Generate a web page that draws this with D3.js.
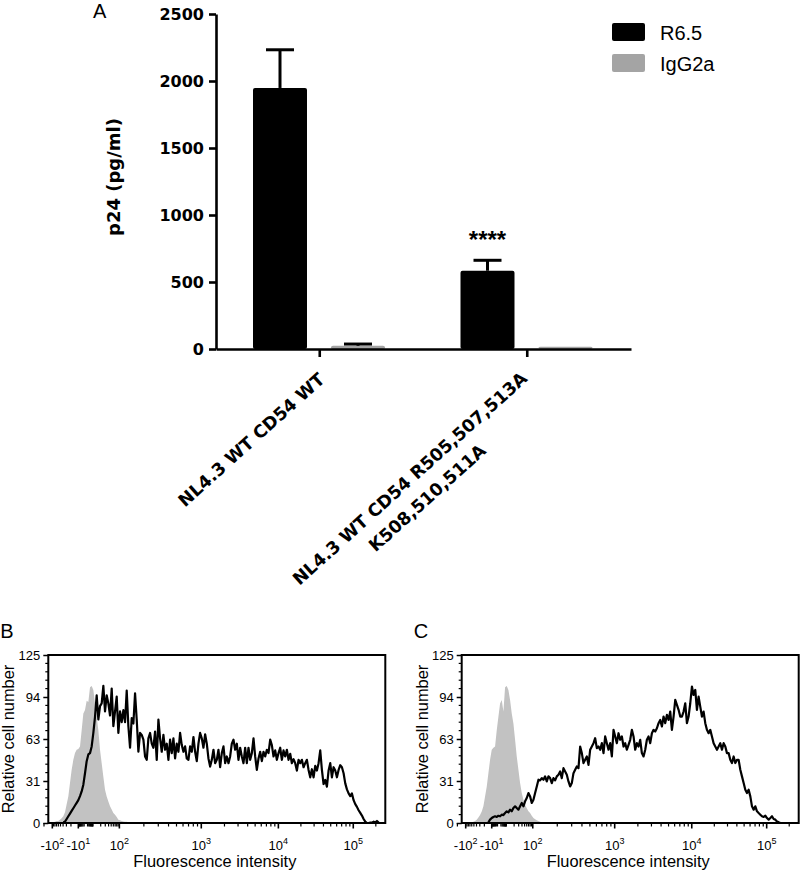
<!DOCTYPE html>
<html>
<head>
<meta charset="utf-8">
<script src="https://cdn.jsdelivr.net/npm/d3@7"></script>
<style>
  body { margin: 0; background: #fff; }
  svg { display: block; }
</style>
</head>
<body>
<svg id="fig" width="800" height="871"></svg>
<script>
/* ---------- panel A data ---------- */
const categoryLines = [
  ["NL4.3 WT CD54 WT"],
  ["NL4.3 WT CD54 R505,507,513A", "K508,510,511A"]
];
const seriesNames = ["R6.5", "IgG2a"];
const r65Mean = [1948, 584];
const r65Err = [285, 78];
const iggMean = [24, 17];
const iggErr = [13, 0];
const significance = ["", "****"];
const yTicksA = [0, 500, 1000, 1500, 2000, 2500];

/* ---------- panels B / C data (histograms, counts per display channel) ---------- */
const flowYTicks = [0, 31.25, 62.5, 93.75, 125];
const flowYLabels = ["0", "31", "63", "94", "125"];
const flowXTicks = [-100, -10, 100, 1000, 10000, 100000];
const flowXLabels = [["-10", "2"], ["-10", "1"], ["10", "2"], ["10", "3"], ["10", "4"], ["10", "5"]];

// value -> display channel calibration
const calibValues = [-100, -10, 0, 10, 100, 1000, 10000, 100000];
const calibChannels = [2.4, 18.0, 22.5, 27.0, 42.6, 91.7, 137.9, 182.8];

const bGrayStart = 3;
const bGray = [
  0.5, 1, 1.5, 1.5, 2.5, 3.5, 5, 8, 14, 19.8,
  29.7, 39.6, 47, 52, 54.5, 55, 57, 69, 81.5, 84,
  91, 90, 101, 102, 99, 89, 79, 69, 54.5, 44.5,
  34.5, 24.8, 19.8, 16, 12.4, 10, 7.4, 6.2, 4.5, 2.5,
  2, 1.5, 1.2, 1, 1, 0.5, 0
];
const bBlackStart = 9;
const bBlack = [
  0.5, 1, 3, 5, 7, 9, 11, 13, 15, 17,
  20, 23.5, 28.5, 37, 46, 51, 52, 57, 67, 79,
  95, 77, 87, 89, 102, 83, 95, 89, 80, 100,
  72, 83, 94, 67, 83, 75, 84, 75, 98.5, 72,
  56, 78, 74, 96.5, 77, 53, 67, 65.5, 62, 49.5,
  47, 63, 67, 59, 56, 68, 47, 77, 63, 53,
  65.5, 54.5, 59, 47, 62, 52, 63, 48, 59, 53,
  67, 58, 53, 57, 48, 47, 57, 53, 64, 53,
  46, 59, 67, 63, 56, 66, 59, 48, 42, 47,
  54.5, 44.5, 47, 54.5, 41.5, 52, 57, 44.5, 49.5, 44.5,
  49.5, 59, 62, 54.5, 59, 47, 56, 49.5, 44.5, 56,
  44.5, 56, 47, 52, 63, 49.5, 39.5, 48, 53, 46,
  53, 49.5, 54.5, 52, 62, 58, 49.5, 54, 47, 52,
  56, 47, 54, 49.5, 54.5, 47, 51.5, 44.5, 47.5, 44.5,
  39, 47, 44.5, 47, 41.5, 44.5, 47, 39.5, 34, 40,
  34, 42.5, 39, 44.5, 54, 39.5, 29, 32, 27, 39,
  44.5, 34, 41.5, 39, 34, 39.5, 43, 41.5, 37, 29.5,
  25, 22, 20, 22, 17, 14, 12, 9.5, 7.5, 5.5,
  3, 1, 0, 0, 0.3, 0.3, 1, 0.5, 1.5, 0.3
];

const cGrayStart = 6;
const cGray = [
  0.5, 1, 1.5, 2.5, 4, 6, 8.5, 12.4, 19.8, 27,
  37, 47, 54.5, 56, 57, 69, 79, 89, 91.5, 83,
  101, 102, 99, 91.5, 81.5, 74, 62, 49.5, 39.6, 29.7,
  22.3, 17.3, 13.6, 11, 8.7, 7.4, 5.4, 3.7, 2.7, 2,
  1.5, 1, 0.5, 0.2, 0
];
const cBlackStart = 16;
const cBlack = [
  0.5, 2.5, 3.7, 4.5, 5, 4.5, 5.4, 5, 6.2, 5.9,
  7.4, 8.7, 7.9, 9.9, 8.7, 11.1, 12.4, 11.1, 9.9, 12.4,
  14.9, 12.4, 16.1, 18.6, 22.3, 19.8, 14.9, 17.3, 22.3, 27.2,
  32.2, 31.7, 33.4, 32.2, 34.7, 30.9, 34.7, 33.4, 29.7, 33.4,
  31.7, 34.7, 35.9, 38.4, 33.4, 40.8, 38.4, 35.9, 30.9, 27.2,
  29.7, 37.1, 39.6, 42.1, 40.8, 56.9, 52, 44.6, 47, 49.5,
  43.3, 54.5, 56.9, 59.4, 63.1, 55.7, 56.9, 54.5, 59.4, 52,
  64.4, 59.4, 54.5, 59.4, 49.5, 69.3, 64.4, 59.4, 66.8, 61.9,
  64.4, 56.9, 59.4, 54.5, 58.2, 61.9, 69.3, 64.4, 54.5, 59.4,
  56.9, 61.9, 52, 49.5, 54.5, 61.9, 64.4, 59.4, 66.8, 69.3,
  68.1, 70.5, 74.3, 76.7, 71.8, 79.2, 74.3, 80.4, 76.7, 82.9,
  69.3, 79.2, 91.6, 87.9, 84.2, 79.2, 79.2, 82.9, 89.1, 74.3,
  79.2, 89.1, 101.5, 95.3, 99, 84.2, 94, 86.6, 79.2, 82.9,
  74.3, 69.3, 66.8, 69.3, 64.4, 59.4, 56.9, 54.5, 56.9, 59.4,
  54.5, 59.4, 56.9, 52, 52, 47, 44.6, 49.5, 44.6, 47,
  47, 39.6, 34.7, 29.7, 24.8, 22.3, 24.8, 19.8, 12.4, 9.9,
  12.4, 8.7, 7.4, 6.2, 5, 4.5, 5.4, 3.7, 2.5, 3.7,
  5, 3, 2.5, 1.2, 0.5, 0
];

const BOLD = "'DejaVu Sans', sans-serif";
const ARIAL = "'Liberation Sans', Arial, sans-serif";
const svg = d3.select("#fig");

/* ============================================================
   Panel A — grouped bars
============================================================ */
const gA = svg.append("g");
const yA = d3.scaleLinear().domain([0, 2500]).range([349, 14]);
const xA = d3.scaleBand().domain(d3.range(categoryLines.length)).range([216, 631]);
const xSub = d3.scaleBand().domain(seriesNames).range([37, 169]).paddingInner(0.3077);
const colorA = d3.scaleOrdinal().domain(seriesNames).range(["#000000", "#a4a4a4"]);

gA.append("text").attr("x", 93).attr("y", 18)
  .attr("font-family", ARIAL).attr("font-size", 20).text("A");

// bars
const barRows = [];
categoryLines.forEach((_, i) => {
  barRows.push({ cat: i, s: "R6.5", mean: r65Mean[i], err: r65Err[i] });
  barRows.push({ cat: i, s: "IgG2a", mean: iggMean[i], err: iggErr[i] });
});

gA.selectAll(".bar").data(barRows).enter().append("rect")
  .attr("x", d => xA(d.cat) + xSub(d.s))
  .attr("y", d => yA(d.mean))
  .attr("width", xSub.bandwidth())
  .attr("height", d => yA(0) - yA(d.mean))
  .attr("rx", 2)
  .attr("fill", d => colorA(d.s));

// error bars (upper only)
const errRows = barRows.filter(d => d.err > 0);
const errG = gA.selectAll(".err").data(errRows).enter().append("g")
  .attr("stroke", "#000").attr("stroke-width", 3);
errG.append("line")
  .attr("x1", d => xA(d.cat) + xSub(d.s) + xSub.bandwidth() / 2)
  .attr("x2", d => xA(d.cat) + xSub(d.s) + xSub.bandwidth() / 2)
  .attr("y1", d => yA(d.mean))
  .attr("y2", d => yA(d.mean + d.err));
errG.append("line")
  .attr("x1", d => xA(d.cat) + xSub(d.s) + xSub.bandwidth() / 2 - 14)
  .attr("x2", d => xA(d.cat) + xSub(d.s) + xSub.bandwidth() / 2 + 14)
  .attr("y1", d => yA(d.mean + d.err))
  .attr("y2", d => yA(d.mean + d.err));

// significance stars
gA.selectAll(".sig").data(significance).enter().append("text")
  .attr("x", (d, i) => xA(i) + xSub("R6.5") + xSub.bandwidth() / 2)
  .attr("y", (d, i) => yA(r65Mean[i] + r65Err[i]) - 12)
  .attr("text-anchor", "middle")
  .attr("font-family", ARIAL).attr("font-size", 24).attr("font-weight", "bold")
  .text(d => d);

// y axis
const yAxisA = gA.append("g").attr("transform", "translate(216,0)")
  .call(d3.axisLeft(yA).tickValues(yTicksA).tickFormat(d3.format("d"))
    .tickSize(7).tickSizeOuter(0).tickPadding(5));
yAxisA.select(".domain").attr("stroke-width", 2.6);
yAxisA.selectAll(".tick line").attr("stroke-width", 2.6);
yAxisA.selectAll(".tick text")
  .attr("font-family", BOLD).attr("font-weight", "bold").attr("font-size", 16).attr("fill", "#000");

// x axis
const xAxisA = gA.append("g").attr("transform", "translate(0,349)")
  .call(d3.axisBottom(xA).tickSize(8).tickSizeOuter(0).tickFormat(""));
xAxisA.select(".domain").attr("stroke-width", 2.6);
xAxisA.selectAll(".tick line").attr("stroke-width", 2.6);

// y title
gA.append("text")
  .attr("transform", "translate(120,177) rotate(-90)")
  .attr("text-anchor", "middle")
  .attr("font-family", BOLD).attr("font-weight", "bold").attr("font-size", 18)
  .text("p24 (pg/ml)");

// rotated category labels, extra lines centred under the first one
const LS = 26;
categoryLines.forEach((lines, i) => {
  const cx = xA(i) + xA.bandwidth() / 2;
  const g = gA.append("g")
    .attr("transform", `translate(${cx + 6},381) rotate(-42)`)
    .attr("font-family", BOLD).attr("font-weight", "bold").attr("font-size", 17.5);
  const lift = lines.length > 1 ? 4 : 0;
  const back = lines.length > 1 ? 3 : 0;
  const first = g.append("text").attr("x", -back).attr("y", -lift)
    .attr("text-anchor", "end").text(lines[0]);
  const w0 = first.node().getComputedTextLength();
  lines.slice(1).forEach((ln, j) => {
    g.append("text").attr("x", -back - w0 / 2).attr("y", (j + 1) * LS - lift)
      .attr("text-anchor", "middle").text(ln);
  });
});

// legend
const leg = gA.selectAll(".leg").data(seriesNames).enter().append("g")
  .attr("transform", (d, i) => `translate(612,${23 + i * 31})`);
leg.append("rect").attr("width", 33).attr("height", 18).attr("rx", 2)
  .attr("fill", d => colorA(d));
leg.append("text").attr("x", 48).attr("y", 16.5)
  .attr("font-family", ARIAL).attr("font-size", 20).text(d => d);

/* ============================================================
   Panels B / C — flow histograms
============================================================ */
const biex = v => Math.sign(v) * Math.log10(1 + Math.abs(v) / 2);
const calib = d3.scaleLinear().domain(calibValues.map(biex)).range(calibChannels);

// minor tick values
const minorTicks = [-200];
for (let m = 9; m >= 2; m--) minorTicks.push(-m * 10);
for (let m = 9; m >= 1; m--) minorTicks.push(-m);
for (let m = 1; m <= 9; m++) minorTicks.push(m);
[10, 100, 1000, 10000, 100000].forEach(dec => {
  for (let m = 2; m <= 9; m++) if (dec * m <= 200000) minorTicks.push(dec * m);
});

function drawFlow(left, letter, gray, grayStart, black, blackStart, titleX) {
  const W = 337, top = 655, bottom = 823;
  const g = svg.append("g");
  const xC = d3.scaleLinear().domain([0, 202]).range([left, left + W]);
  const pos = v => xC(calib(biex(v)));
  const yF = d3.scaleLinear().domain([0, 125]).range([bottom, top]);

  const clipId = "clip" + letter;
  g.append("clipPath").attr("id", clipId).append("rect")
    .attr("x", left).attr("y", top).attr("width", W).attr("height", bottom - top);

  const area = d3.area().x((d, i) => xC(grayStart + i)).y0(yF(0)).y1(d => yF(d));
  g.append("path").datum(gray).attr("d", area)
    .attr("fill", "#c2c2c2").attr("clip-path", `url(#${clipId})`);

  const line = d3.line().x((d, i) => xC(blackStart + i)).y(d => yF(d));
  g.append("path").datum(black).attr("d", line)
    .attr("fill", "none").attr("stroke", "#000").attr("stroke-width", 2.2)
    .attr("stroke-linejoin", "round").attr("clip-path", `url(#${clipId})`);

  g.append("rect").attr("x", left).attr("y", top).attr("width", W).attr("height", bottom - top)
    .attr("fill", "none").attr("stroke", "#000").attr("stroke-width", 2);

  // y axis
  const yAx = g.append("g").attr("transform", `translate(${left},0)`)
    .call(d3.axisLeft(yF).tickValues(flowYTicks).tickFormat((d, i) => flowYLabels[i])
      .tickSize(5).tickSizeOuter(0).tickPadding(3));
  yAx.select(".domain").remove();
  yAx.selectAll(".tick line").attr("stroke-width", 1.5);
  yAx.selectAll(".tick text").attr("font-family", ARIAL).attr("font-size", 13).attr("fill", "#000");
  const yMinor = d3.range(0, 125.01, 6.25).filter(v => !flowYTicks.includes(v));
  g.selectAll(".ym").data(yMinor).enter().append("line")
    .attr("x1", left - 3).attr("x2", left).attr("y1", d => yF(d)).attr("y2", d => yF(d))
    .attr("stroke", "#000").attr("stroke-width", 1.2);

  // x axis ticks
  g.selectAll(".xm").data(minorTicks).enter().append("line")
    .attr("x1", d => pos(d)).attr("x2", d => pos(d))
    .attr("y1", bottom).attr("y2", bottom + 3.5)
    .attr("stroke", "#000").attr("stroke-width", 1.2);
  g.selectAll(".xM").data(flowXTicks).enter().append("line")
    .attr("x1", d => pos(d)).attr("x2", d => pos(d))
    .attr("y1", bottom).attr("y2", bottom + 5.5)
    .attr("stroke", "#000").attr("stroke-width", 1.6);
  const lab = g.selectAll(".xl").data(flowXTicks).enter().append("text")
    .attr("x", d => pos(d)).attr("y", 850)
    .attr("text-anchor", "middle")
    .attr("font-family", ARIAL).attr("font-size", 13);
  lab.append("tspan").text((d, i) => flowXLabels[i][0]);
  lab.append("tspan").attr("font-size", 9).attr("dy", -6).text((d, i) => flowXLabels[i][1]);

  g.append("text").attr("x", left + W / 2 - 2).attr("y", 867)
    .attr("text-anchor", "middle").attr("font-family", ARIAL).attr("font-size", 16.4)
    .text("Fluorescence intensity");
  g.append("text").attr("transform", `translate(${titleX},739) rotate(-90)`)
    .attr("text-anchor", "middle").attr("font-family", ARIAL).attr("font-size", 16.4)
    .text("Relative cell number");
  g.append("text").attr("x", left - 48).attr("y", 638)
    .attr("font-family", ARIAL).attr("font-size", 20).text(letter);
}

drawFlow(48.3, "B", bGray, bGrayStart, bBlack, bBlackStart, 13.5);
drawFlow(461.7, "C", cGray, cGrayStart, cBlack, cBlackStart, 427.5);
</script>
</body>
</html>
